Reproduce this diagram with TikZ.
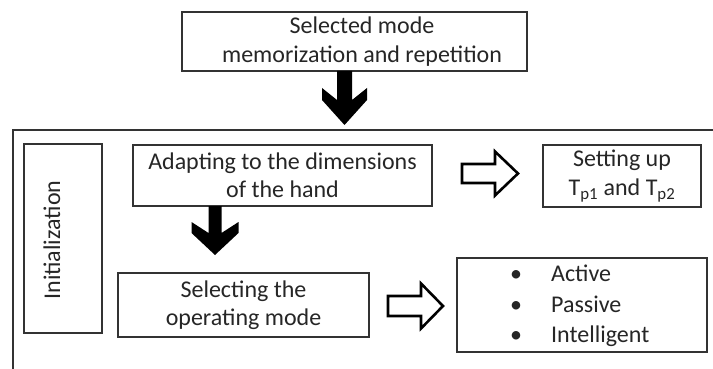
\documentclass[tikz,border=0pt]{standalone}
\usepackage{fontspec}
\setmainfont{Carlito}
\newcommand{\blkdown}[7]{% cx, y0, yh (outer corner), yj (junction), yt (tip), half shaft, half head
  \fill[black] (#1-#6,#2) -- (#1-#6,#4) -- (#1-#7,#3) -- (#1-#7,#4) -- (#1,#5) -- (#1+#7,#4) -- (#1+#7,#3) -- (#1+#6,#4) -- (#1+#6,#2) -- cycle;}
\newcommand{\blkright}[6]{% x0, xh, xt, ymid, half shaft, half head
  \draw[black, line width=2.6pt, line join=miter, fill=white] (#1,#4-#5) -- (#2,#4-#5) -- (#2,#4-#6) -- (#3,#4) -- (#2,#4+#6) -- (#2,#4+#5) -- (#1,#4+#5) -- cycle;}
\begin{document}
\begin{tikzpicture}[x=1pt,y=-1pt,
  box/.style={draw=black!80, line width=1.4pt, inner sep=0pt, align=center,
    font=\fontsize{24}{28.5}\selectfont, text=black!85},
  txt/.style={inner sep=0pt, align=center, font=\fontsize{24}{28.5}\selectfont, text=black!85}]
\useasboundingbox (0,0) rectangle (713,369);
\fill[white] (0,0) rectangle (713,369);
% outer frame
\coordinate (fbl) at (13,371);
\coordinate (ftl) at (13,130);
\coordinate (ftr) at (715,130);
\draw[black!80, line width=1.4pt] (fbl) -- (ftl) -- (ftr);
% boxes
\node[box, minimum width=345pt, minimum height=59pt] (top) at (354.5,41.5)
  {\hspace*{15pt}Selected mode\\\hspace*{15pt}memorization and repetition};
\node[box, minimum width=78pt, minimum height=189pt] (init) at (63,238.5) {};
\node[txt, rotate=90] (inittxt) at (52,240) {Initialization};
\node[box, minimum width=299pt, minimum height=61pt] (adapt) at (282.5,175.5)
  {Adapting to the dimensions\\of the hand};
\node[box, minimum width=158pt, minimum height=62pt] (setup) at (622,176)
  {Setting up\\T\textsubscript{p1} and T\textsubscript{p2}};
\node[box, minimum width=251pt, minimum height=64pt] (select) at (243.5,305)
  {Selecting the\\operating mode};
\node[box, minimum width=250pt, minimum height=94pt] (modes) at (582,305) {};
\node[txt, anchor=west, align=left, font=\fontsize{24}{30.5}\selectfont] (modestxt) at (510,306)
  {\makebox[41pt][l]{•}Active\\\makebox[41pt][l]{•}Passive\\\makebox[41pt][l]{•}Intelligent};
% block arrows
\blkdown{344.5}{71}{88}{100}{125}{7.5}{22.5}
\blkdown{215}{206}{222}{233}{255}{6.5}{23.5}
\blkright{462}{495}{518}{173.5}{9.5}{22}
\blkright{388}{421}{443}{306}{10}{22.5}
\end{tikzpicture}
\end{document}
